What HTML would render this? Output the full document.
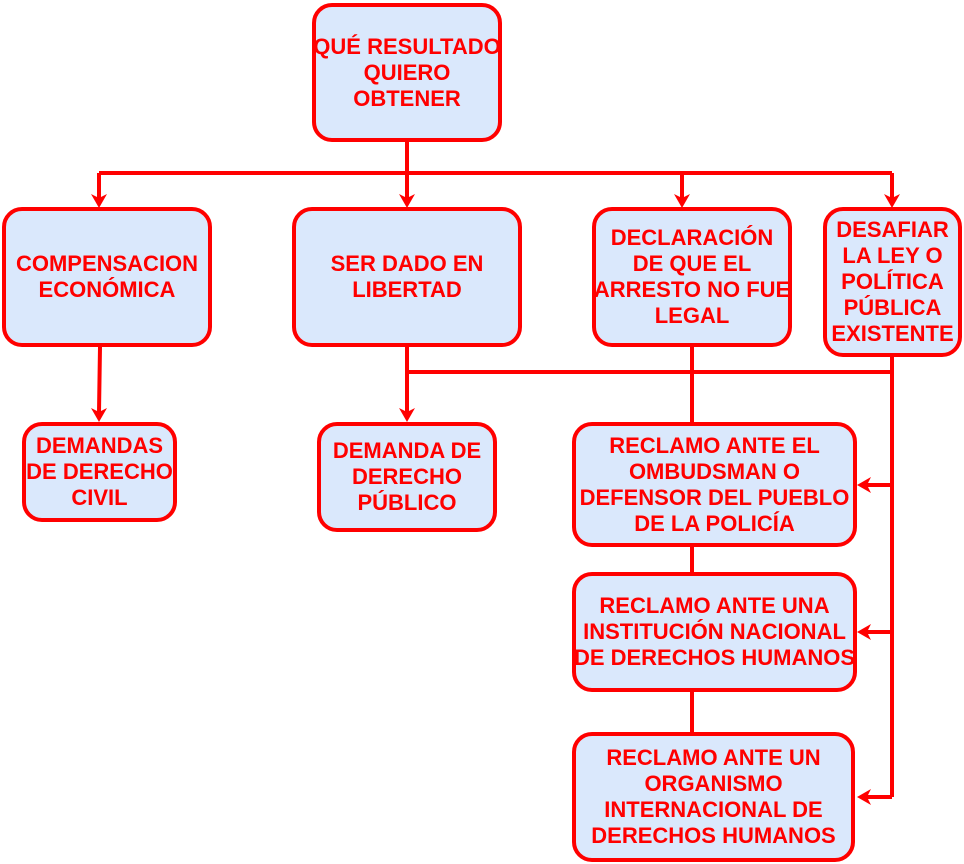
<!DOCTYPE html>
<html><head><meta charset="utf-8"><style>
body{margin:0;width:964px;height:864px;background:#fff;position:relative;overflow:hidden}
.b{position:absolute;box-sizing:border-box;border:4px solid #ff0000;border-radius:20px;background:#dae8fc;display:flex;align-items:center;justify-content:center;text-align:center;color:#ff0000;font:bold 22px/26px "Liberation Sans",Arial,sans-serif;white-space:nowrap}
svg{position:absolute;left:0;top:0}
</style></head><body>
<svg width="964" height="864">
<g stroke="#ff0000" stroke-width="4" fill="none">
<path d="M407 142V173M99 173H892M99 173V198M407 173V198M682 173V198M892 173V198"/>
<path d="M100 347L99 412M407 347V412M407 372H892M692 347V422M692 547V572M692 692V732M892 357V797M892 485H866M892 632H866M892 797H866"/>
</g>
<g fill="#ff0000">
<path d="M91 194L99 208L107 194L99 198Z"/>
<path d="M399 194L407 208L415 194L407 198Z"/>
<path d="M674 194L682 208L690 194L682 198Z"/>
<path d="M884 194L892 208L900 194L892 198Z"/>
<path d="M91 408L99 422L107 408L99 412Z"/>
<path d="M399 408L407 422L415 408L407 412Z"/>
<path d="M871 477L857 485L871 493L867 485Z"/>
<path d="M871 624L857 632L871 640L867 632Z"/>
<path d="M871 789L857 797L871 805L867 797Z"/>
</g>
</svg>
<div class="b" style="left:312px;top:3px;width:190px;height:139px">QUÉ RESULTADO<br>QUIERO<br>OBTENER</div>
<div class="b" style="left:2px;top:207px;width:210px;height:140px">COMPENSACION<br>ECONÓMICA</div>
<div class="b" style="left:292px;top:207px;width:230px;height:140px">SER DADO EN<br>LIBERTAD</div>
<div class="b" style="left:592px;top:207px;width:200px;height:140px">DECLARACIÓN<br>DE QUE EL<br>ARRESTO NO FUE<br>LEGAL</div>
<div class="b" style="left:823px;top:207px;width:139px;height:150px">DESAFIAR<br>LA LEY O<br>POLÍTICA<br>PÚBLICA<br>EXISTENTE</div>
<div class="b" style="left:22px;top:422px;width:155px;height:100px">DEMANDAS<br>DE DERECHO<br>CIVIL</div>
<div class="b" style="left:317px;top:422px;width:180px;height:110px">DEMANDA DE<br>DERECHO<br>PÚBLICO</div>
<div class="b" style="left:572px;top:422px;width:285px;height:125px">RECLAMO ANTE EL<br>OMBUDSMAN O<br>DEFENSOR DEL PUEBLO<br>DE LA POLICÍA</div>
<div class="b" style="left:572px;top:572px;width:285px;height:120px">RECLAMO ANTE UNA<br>INSTITUCIÓN NACIONAL<br>DE DERECHOS HUMANOS</div>
<div class="b" style="left:572px;top:732px;width:283px;height:130px">RECLAMO ANTE UN<br>ORGANISMO<br>INTERNACIONAL DE<br>DERECHOS HUMANOS</div>
</body></html>
